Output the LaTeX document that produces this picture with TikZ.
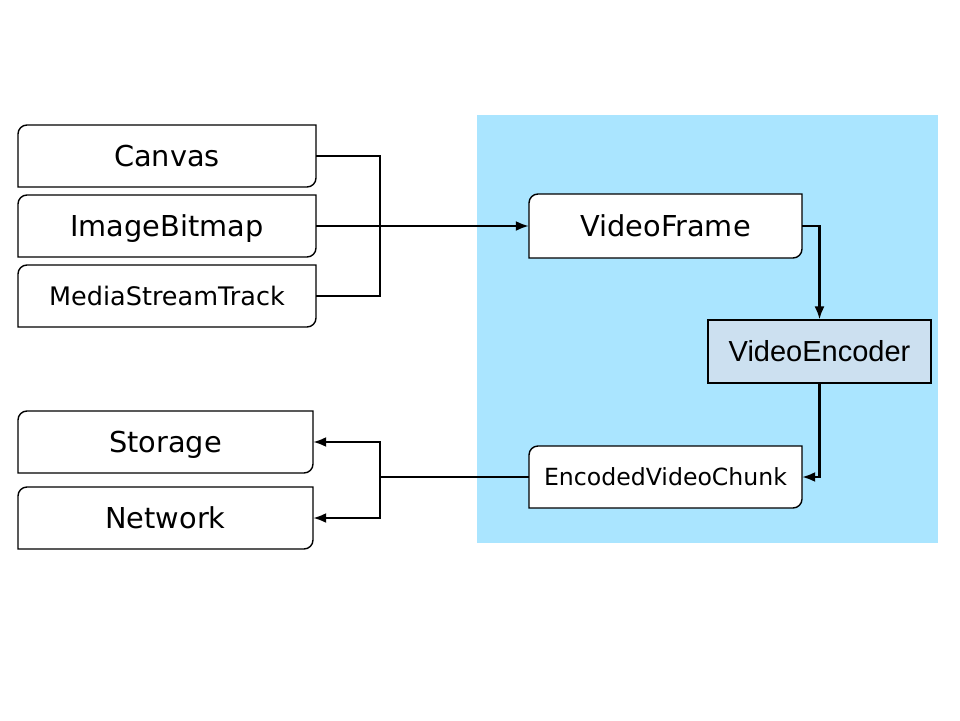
\documentclass[tikz,border=0pt]{standalone}
\usepackage{fontspec}
\setmainfont{DejaVu Sans}
\newfontfamily\arialfont{Liberation Sans}
\usetikzlibrary{arrows.meta}
\definecolor{panelblue}{RGB}{170,229,255}
\definecolor{encfill}{RGB}{204,224,240}
\tikzset{
  boxline/.style={draw=black, line width=1.4pt, fill=white},
  lbl/.style={inner sep=0pt, text=black, text depth=0pt},
  conn/.style={draw=black, line width=2.2pt},
  arr/.style={conn, -{Latex[length=13pt,width=10pt]}}
}
\newcommand\obox[7]{%
  \draw[boxline] (#2,#5) -- (#2,#3+9) arc[start angle=180,end angle=90,radius=9pt] -- (#4,#3) -- (#4,#5-9) arc[start angle=0,end angle=-90,radius=9pt] -- cycle;
  \node[lbl, text height={#6*0.73pt}, minimum width={(#4-#2)*1pt}, minimum height={(#5-#3)*1pt}, font=\fontsize{#6}{#6}\selectfont] (#1) at ({(#2+#4)/2},{(#3+#5)/2}) {#7};
}
\begin{document}
\begin{tikzpicture}[x=1pt,y=-1pt]
\useasboundingbox (0,0) rectangle (960,720);
\fill[white] (0,0) rectangle (960,720);
\node[fill=panelblue, inner sep=0pt, minimum width=461pt, minimum height=428pt, anchor=north west] (panel) at (477,115) {};
\obox{canvas}{18}{125}{316}{187}{28.8}{Canvas}
\obox{ib}{18}{195}{316}{257}{28.8}{ImageBitmap}
\obox{mst}{18}{265}{316}{327}{25.5}{MediaStreamTrack}
\obox{storage}{18}{411}{313}{473}{28.8}{Storage}
\obox{network}{18}{487}{313}{549}{28.8}{Network}
\obox{vf}{529}{194}{802}{258}{28.8}{VideoFrame}
\obox{evc}{529}{446}{802}{508}{23.6}{EncodedVideoChunk}
\node[draw=black, line width=1.2pt, fill=encfill, inner sep=0pt, minimum width=223pt, minimum height=63pt, text height=20.9pt, text depth=0pt, font=\arialfont\fontsize{29}{29}\selectfont] (ve) at (819.5,351.5) {VideoEncoder};
\coordinate (j1) at (380,226);
\coordinate (j2) at (380,477);
\draw[conn] (canvas.east) -| (j1);
\draw[conn] (mst.east) -| (j1);
\draw[arr] (ib.east) -- (vf.west);
\draw[arr] (vf.east) -| (ve.north);
\draw[arr] (ve.south) |- (evc.east);
\draw[conn] (evc.west) -- (j2);
\draw[arr] (j2) |- (storage.east);
\draw[arr] (j2) |- (network.east);
\end{tikzpicture}
\end{document}
